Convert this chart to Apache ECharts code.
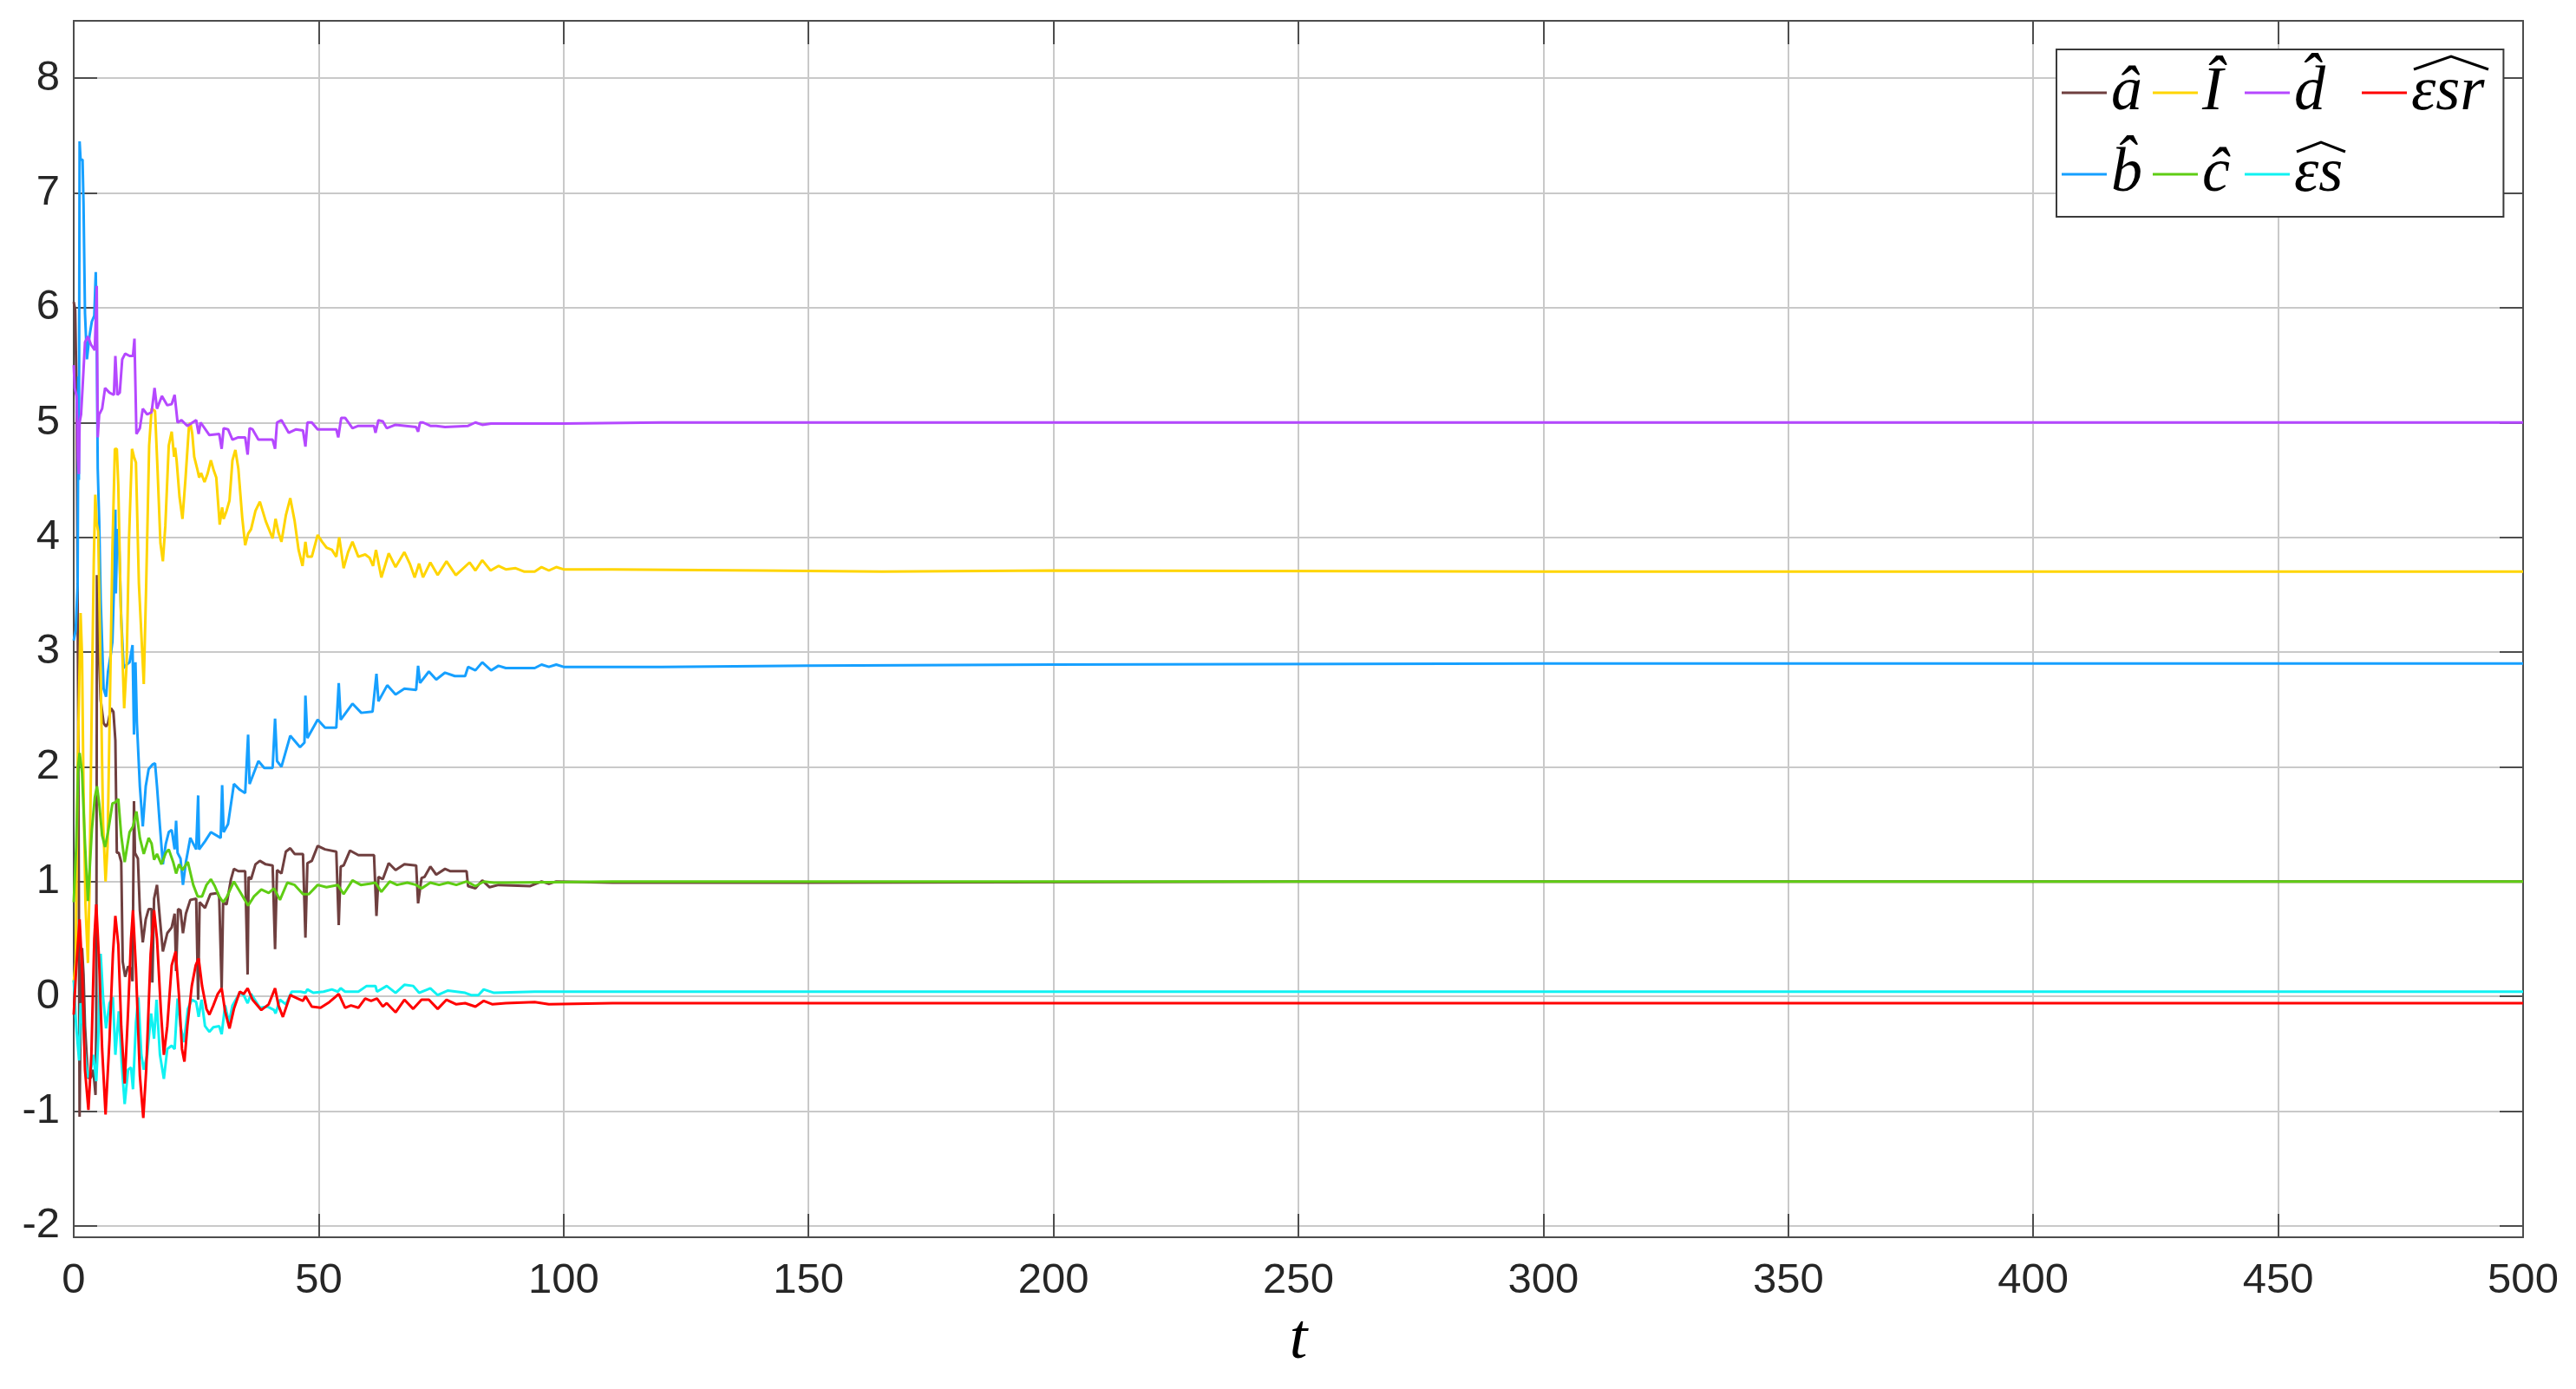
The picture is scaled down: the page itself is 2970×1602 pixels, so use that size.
<!DOCTYPE html>
<html>
<head>
<meta charset="utf-8">
<script src="https://cdn.jsdelivr.net/npm/echarts@6.0.0/dist/echarts.min.js"></script>
<style>
  html, body { margin: 0; padding: 0; background: #ffffff; }
  #chart { width: 2970px; height: 1602px; }
</style>
</head>
<body>
<div id="chart"></div>
<script>
  // estimated parameter traces, [t, value]
  const aHat = [[0,6.05],[0.3,5.98],[0.6,5.2],[0.9,2.6],[1.2,-1.05],[1.4,-0.13],[1.7,0.42],[2.0,0.19],[2.3,-0.26],[2.9,-0.71],[3.5,-0.71],[4.0,-0.64],[4.45,-0.86],[4.6,-0.26],[4.75,3.67],[5.1,3.09],[5.5,2.58],[6.1,2.38],[6.6,2.35],[7.0,2.38],[7.6,2.51],[8.1,2.48],[8.5,2.23],[8.8,1.25],[9.2,1.25],[9.7,1.17],[10.0,0.3],[10.5,0.17],[11.1,0.26],[11.7,0.24],[12.0,0.13],[12.3,1.70],[12.5,1.25],[13.1,1.2],[13.5,0.75],[14.1,0.47],[14.7,0.67],[15.3,0.76],[15.9,0.76],[16.05,0.12],[16.4,0.85],[17.0,0.97],[17.6,0.67],[18.2,0.39],[19.1,0.55],[20.0,0.60],[20.6,0.72],[20.9,0.22],[21.3,0.76],[21.8,0.75],[22.3,0.55],[22.9,0.72],[23.8,0.84],[25.0,0.85],[25.4,-0.03],[25.7,0.82],[26.8,0.77],[27.9,0.89],[29.4,0.90],[29.7,0.86],[30.2,0.07],[30.5,0.82],[31.2,0.80],[32.1,1.02],[32.7,1.11],[33.6,1.09],[35.0,1.09],[35.5,0.19],[35.7,1.04],[36.2,1.02],[37.1,1.15],[38.0,1.18],[39.2,1.15],[40.6,1.14],[41.1,0.41],[41.5,1.10],[42.4,1.07],[43.3,1.26],[44.2,1.29],[45.1,1.24],[46.8,1.24],[47.3,0.51],[47.7,1.16],[48.6,1.18],[49.8,1.31],[51.3,1.28],[53.6,1.26],[54.1,0.62],[54.5,1.13],[55.1,1.14],[56.4,1.27],[58.1,1.23],[61.3,1.23],[61.8,0.70],[62.2,1.04],[63.1,1.02],[64.3,1.16],[65.7,1.10],[67.5,1.15],[69.9,1.14],[70.3,0.81],[71.0,1.03],[71.6,1.04],[72.8,1.13],[74.0,1.06],[75.8,1.11],[76.9,1.09],[80.2,1.09],[80.5,0.96],[82.0,0.94],[83.4,1.01],[84.9,0.95],[86.7,0.97],[93.2,0.96],[95.5,1.00],[97.0,0.98],[98.5,1.0],[110,0.99],[150,0.99],[250,1.0],[500,1.0]]

  const bHat = [[0,3.10],[0.4,3.19],[0.8,3.59],[0.95,5.4],[1.05,4.5],[1.2,7.45],[1.4,7.29],[1.8,7.29],[2.0,6.91],[2.3,5.95],[2.7,5.55],[3.2,5.75],[3.7,5.88],[4.2,5.93],[4.5,6.31],[4.7,5.70],[4.9,4.6],[5.2,4.14],[5.5,3.46],[6.1,2.68],[6.6,2.61],[7.0,2.83],[7.6,2.99],[7.9,3.09],[8.2,3.54],[8.5,4.24],[8.6,3.51],[8.9,4.07],[9.2,4.04],[9.7,3.29],[10.2,2.86],[10.8,2.89],[11.4,2.91],[12.0,3.06],[12.3,2.28],[12.6,2.91],[12.9,2.38],[13.5,1.83],[14.1,1.48],[14.7,1.83],[15.3,1.98],[16.1,2.02],[16.6,2.03],[17.0,1.83],[17.6,1.48],[18.2,1.15],[18.8,1.33],[19.4,1.43],[20.0,1.45],[20.6,1.28],[20.9,1.53],[21.2,1.25],[21.8,1.20],[22.3,0.97],[22.9,1.17],[23.8,1.38],[25.0,1.28],[25.4,1.75],[25.6,1.28],[26.8,1.35],[28.0,1.43],[30.0,1.38],[30.3,1.84],[30.6,1.43],[31.5,1.50],[32.7,1.85],[33.9,1.80],[35.0,1.77],[35.6,2.28],[35.9,1.85],[37.7,2.05],[38.9,1.99],[40.6,1.99],[41.1,2.42],[41.5,2.05],[42.4,2.00],[44.2,2.27],[46.2,2.17],[47.1,2.21],[47.3,2.62],[47.7,2.25],[49.8,2.41],[51.3,2.34],[53.6,2.34],[54.1,2.73],[54.5,2.41],[56.9,2.55],[58.7,2.47],[61.0,2.48],[61.8,2.81],[62.2,2.57],[64.0,2.71],[65.7,2.63],[67.5,2.68],[69.9,2.67],[70.3,2.88],[70.7,2.73],[72.5,2.83],[74.0,2.76],[75.8,2.82],[77.8,2.79],[79.9,2.79],[80.5,2.87],[82.0,2.84],[83.4,2.91],[85.2,2.84],[86.7,2.88],[88.2,2.86],[94.1,2.86],[95.5,2.89],[97.0,2.87],[98.5,2.89],[100,2.87],[120,2.87],[150,2.88],[200,2.89],[300,2.90],[500,2.90]]

  const iHat = [[0,0.12],[0.4,0.3],[0.8,2.0],[1.1,2.66],[1.4,3.34],[1.7,2.96],[2.0,1.8],[2.4,0.8],[2.9,0.29],[3.2,0.9],[3.7,2.6],[4.1,3.8],[4.4,4.37],[4.7,4.12],[5.0,4.05],[5.5,2.8],[6.0,1.5],[6.5,1.0],[6.9,1.3],[7.4,2.6],[7.9,3.9],[8.4,4.77],[8.8,4.77],[9.1,4.45],[9.6,3.4],[10.3,2.51],[10.8,2.9],[11.3,4.0],[11.9,4.77],[12.3,4.70],[12.7,4.65],[13.3,3.6],[14.3,2.72],[14.8,3.6],[15.4,4.8],[15.9,5.12],[16.6,5.10],[17.1,4.6],[17.7,3.95],[18.2,3.79],[18.7,4.1],[19.4,4.8],[20.0,4.92],[20.5,4.70],[20.7,4.78],[21.0,4.67],[21.6,4.35],[22.2,4.16],[22.8,4.5],[23.5,4.95],[23.8,5.00],[24.2,4.90],[24.6,4.70],[25.3,4.58],[25.6,4.52],[26.0,4.56],[26.7,4.48],[27.3,4.55],[28.0,4.67],[28.6,4.58],[29.1,4.52],[29.8,4.11],[30.3,4.26],[30.6,4.16],[31.2,4.23],[31.8,4.32],[32.4,4.67],[33.0,4.76],[33.6,4.60],[34.4,4.17],[35.0,3.93],[35.6,4.03],[36.2,4.07],[37.1,4.23],[38.0,4.31],[39.2,4.14],[40.6,3.99],[41.2,4.16],[41.8,4.04],[42.4,3.96],[43.3,4.19],[44.2,4.34],[45.1,4.14],[45.9,3.89],[46.7,3.75],[47.3,3.96],[47.7,3.83],[48.6,3.83],[49.8,4.02],[50.7,3.96],[51.6,3.91],[52.7,3.89],[53.6,3.83],[54.2,4.00],[55.1,3.73],[56.0,3.87],[56.9,3.96],[58.1,3.83],[59.5,3.85],[60.4,3.82],[61.1,3.75],[61.7,3.89],[62.8,3.65],[64.3,3.86],[65.7,3.74],[67.5,3.87],[68.6,3.77],[69.6,3.65],[70.5,3.77],[71.3,3.65],[72.8,3.78],[74.3,3.67],[76.1,3.79],[78.0,3.67],[80.8,3.78],[82.0,3.71],[83.4,3.80],[85.1,3.71],[86.7,3.75],[88.2,3.72],[90.2,3.73],[92.0,3.70],[94.1,3.70],[95.5,3.74],[97.0,3.71],[98.5,3.74],[100,3.72],[110,3.72],[140,3.71],[165,3.70],[200,3.71],[300,3.70],[500,3.70]]

  const cHat = [[0,0.82],[0.5,1.3],[0.9,2.0],[1.2,2.12],[1.7,1.95],[2.3,1.33],[2.9,0.83],[3.7,1.45],[4.3,1.73],[4.75,1.83],[5.2,1.68],[5.8,1.40],[6.4,1.30],[7.0,1.43],[7.9,1.68],[8.5,1.69],[9.1,1.72],[9.7,1.40],[10.4,1.17],[11.4,1.43],[12.1,1.48],[12.8,1.61],[13.5,1.38],[14.3,1.24],[15.3,1.38],[15.9,1.33],[16.4,1.19],[17.0,1.24],[17.9,1.15],[18.8,1.25],[19.4,1.28],[20.3,1.17],[20.9,1.07],[21.5,1.15],[22.2,1.10],[23.3,1.17],[24.4,0.97],[25.3,0.87],[26.2,0.87],[27.1,0.97],[28.0,1.02],[28.8,0.96],[29.7,0.87],[30.5,0.82],[31.2,0.86],[32.7,1.00],[34.1,0.90],[35.6,0.79],[36.8,0.87],[38.3,0.93],[39.8,0.90],[40.9,0.94],[42.1,0.84],[43.6,0.99],[45.1,0.97],[46.8,0.89],[48.0,0.89],[49.8,0.97],[51.6,0.95],[53.9,0.97],[55.1,0.89],[56.9,1.01],[58.6,0.97],[60.4,0.98],[61.6,0.99],[62.8,0.91],[64.5,1.00],[66.0,0.97],[68.1,0.99],[69.9,0.97],[71.0,0.94],[72.8,0.99],[74.6,0.97],[76.4,0.99],[78.1,0.97],[80.2,1.00],[82.0,0.96],[83.7,1.00],[85.8,0.99],[88.2,0.99],[110,1.00],[500,1.00]]

  const dHat = [[0,5.50],[0.2,5.30],[0.6,5.23],[0.85,4.7],[1.05,4.55],[1.2,5.0],[1.5,5.07],[1.8,5.30],[2.3,5.70],[2.9,5.75],[3.5,5.68],[4.3,5.63],[4.7,6.19],[4.9,4.87],[5.2,5.07],[5.8,5.12],[6.4,5.30],[7.3,5.26],[8.2,5.24],[8.5,5.58],[8.9,5.24],[9.4,5.26],[9.9,5.55],[10.5,5.60],[11.4,5.58],[12.1,5.58],[12.4,5.73],[12.8,4.90],[13.5,4.95],[14.1,5.12],[15.0,5.07],[15.9,5.09],[16.5,5.30],[17.0,5.12],[18.0,5.23],[19.1,5.15],[20.0,5.16],[20.6,5.24],[21.2,5.00],[22.0,5.02],[23.2,4.97],[25.0,5.02],[25.5,4.90],[25.9,5.00],[27.7,4.89],[29.7,4.90],[30.2,4.77],[30.6,4.95],[31.5,4.94],[32.4,4.85],[33.6,4.87],[35.0,4.87],[35.5,4.72],[35.9,4.95],[36.5,4.94],[37.7,4.85],[38.9,4.85],[40.6,4.85],[41.1,4.77],[41.5,5.00],[42.4,5.02],[43.9,4.91],[45.4,4.94],[46.8,4.93],[47.3,4.79],[47.7,5.00],[48.6,5.00],[49.8,4.94],[51.6,4.94],[53.6,4.94],[54.0,4.87],[54.6,5.04],[55.4,5.04],[56.9,4.95],[58.1,4.97],[61.3,4.97],[61.6,4.91],[62.2,5.02],[63.1,5.01],[63.9,4.95],[65.7,4.98],[69.9,4.96],[70.3,4.92],[70.7,5.00],[71.3,5.00],[72.8,4.97],[74.0,4.97],[75.8,4.96],[80.5,4.97],[82.0,5.00],[83.4,4.98],[85.2,4.99],[88.2,4.99],[100,4.99],[120,5.0],[500,5.0]]

  const esHat = [[0,0.14],[0.5,-0.26],[1.1,-0.56],[1.4,-0.06],[1.9,-0.26],[2.3,-0.51],[2.9,-0.71],[3.5,-0.64],[4.0,-0.51],[4.6,-0.74],[5.0,-0.38],[5.5,0.37],[6.0,-0.01],[6.6,-0.28],[7.3,-0.06],[8.0,-0.01],[8.5,-0.51],[9.2,-0.13],[9.8,-0.59],[10.4,-0.94],[11.1,-0.64],[11.7,-0.62],[12.1,-0.81],[12.7,-0.23],[13.2,-0.01],[13.8,-0.51],[14.3,-0.64],[15.0,-0.51],[15.8,-0.15],[16.4,-0.37],[16.9,-0.03],[17.6,-0.51],[18.4,-0.72],[19.1,-0.46],[20.0,-0.43],[20.6,-0.46],[21.2,-0.02],[21.8,-0.26],[22.5,-0.40],[23.3,-0.11],[24.1,-0.03],[25.0,-0.05],[25.5,-0.18],[26.1,-0.03],[26.8,-0.26],[27.7,-0.31],[28.5,-0.27],[29.7,-0.26],[30.2,-0.33],[30.9,-0.08],[31.7,-0.23],[32.4,-0.08],[33.9,0.03],[34.7,0.01],[35.5,-0.06],[36.2,0.02],[38.0,-0.10],[39.5,-0.09],[40.9,-0.12],[41.2,-0.15],[42.1,-0.03],[43.3,-0.07],[44.5,0.04],[46.3,0.04],[47.3,0.03],[47.7,0.06],[48.9,0.03],[51.0,0.04],[52.7,0.06],[53.9,0.04],[54.5,0.07],[55.4,0.04],[58.1,0.04],[59.8,0.09],[61.6,0.09],[61.9,0.04],[63.9,0.09],[65.7,0.03],[67.5,0.10],[69.3,0.09],[70.5,0.03],[72.8,0.07],[74.3,0.01],[76.4,0.05],[79.9,0.03],[81.1,0.01],[82.6,0.01],[83.7,0.06],[85.8,0.03],[94.1,0.04],[110,0.04],[500,0.04]]

  const esrHat = [[0,-0.16],[0.5,0.24],[1.2,0.67],[1.7,0.24],[2.3,-0.64],[3.0,-0.99],[3.6,-0.51],[4.2,0.50],[4.6,0.80],[5.2,0.29],[5.8,-0.46],[6.5,-1.03],[7.3,-0.38],[8.0,0.37],[8.5,0.70],[9.1,0.45],[9.7,-0.26],[10.4,-0.76],[11.1,-0.13],[11.7,0.50],[12.1,0.75],[12.7,0.24],[13.5,-0.69],[14.2,-1.06],[14.8,-0.64],[15.7,0.37],[16.4,0.75],[17.0,0.50],[17.8,-0.13],[18.4,-0.51],[19.1,-0.26],[20.0,0.27],[20.8,0.39],[21.5,0.0],[22.1,-0.46],[22.6,-0.57],[23.2,-0.26],[24.1,0.09],[24.9,0.27],[25.5,0.33],[26.2,0.09],[27.1,-0.11],[27.7,-0.16],[28.5,-0.08],[29.4,0.02],[30.2,0.07],[30.9,-0.13],[31.8,-0.28],[32.7,-0.11],[33.9,0.04],[34.7,0.02],[35.5,0.07],[36.5,-0.03],[38.3,-0.12],[39.8,-0.07],[41.1,0.07],[41.8,-0.08],[42.7,-0.18],[44.2,0.01],[45.7,-0.02],[46.8,-0.04],[47.3,0.0],[48.6,-0.09],[50.4,-0.10],[52.2,-0.05],[53.3,-0.01],[54.1,0.02],[55.4,-0.10],[56.6,-0.08],[58.1,-0.10],[59.5,-0.02],[60.7,-0.04],[61.9,-0.02],[63.1,-0.09],[63.9,-0.06],[65.7,-0.14],[67.5,-0.03],[69.3,-0.11],[71.0,-0.03],[72.5,-0.03],[74.3,-0.11],[76.1,-0.03],[78.1,-0.07],[79.9,-0.06],[82.0,-0.09],[83.7,-0.04],[85.5,-0.07],[88.2,-0.06],[94.1,-0.05],[97.0,-0.07],[110,-0.06],[500,-0.06]]

  // plot order (later on top)
  const seriesNames = ['â', 'b̂', 'Î', 'ĉ', 'd̂', 'εs', 'εsr']
  const seriesData = [aHat, bHat, iHat, cHat, dHat, esHat, esrHat]
  const seriesColors = ['#6f3f3f', '#16a0ff', '#ffd500', '#5fcd14', '#b548ff', '#10f2f2', '#ff0000']

  // legend rows, MATLAB column layout
  const legendOrder = ['â', 'Î', 'd̂', 'εsr', 'b̂', 'ĉ', 'εs']
  const legendTextWidth = [48, 49, 78, null, 48, 49, 78]

  const axisColor = '#4d4d4d'
  const gridColor = '#c9c9c9'
  const labelFont = {
    fontFamily: 'Liberation Sans',
    fontSize: 49,
    color: '#262626'
  }

  const chart = echarts.init(document.getElementById('chart'), null, { renderer: 'canvas' })

  chart.setOption({
    animation: false,
    backgroundColor: '#ffffff',
    grid: {
      left: 85,
      right: 61,
      top: 24,
      bottom: 175,
      containLabel: false
    },
    legend: {
      left: 2371,
      top: 57,
      width: 590,
      orient: 'horizontal',
      itemGap: 0,
      itemWidth: 52,
      itemHeight: 3,
      icon: 'rect',
      padding: [3, 22, 2, 6],
      backgroundColor: '#ffffff',
      borderColor: '#3a3a3a',
      borderWidth: 2,
      borderRadius: 0,
      selectedMode: false,
      textStyle: {
        fontFamily: 'Liberation Serif',
        fontStyle: 'italic',
        fontSize: 72,
        color: '#000000',
        lineHeight: 94
      },
      data: legendOrder.map((n, i) => {
        const item = { name: n }
        if (legendTextWidth[i]) item.textStyle = { width: legendTextWidth[i] }
        return item
      })
    },
    xAxis: [
      {
        type: 'value',
        position: 'bottom',
        min: 0,
        max: 500,
        interval: 50,
        axisLine: { show: true, onZero: false, lineStyle: { color: axisColor, width: 2 } },
        axisTick: { show: true, inside: true, length: 27, lineStyle: { color: axisColor, width: 2 } },
        axisLabel: Object.assign({ margin: 26 }, labelFont),
        splitLine: { show: true, lineStyle: { color: gridColor, width: 2 } },
        name: 't',
        nameLocation: 'middle',
        nameGap: 83,
        nameTextStyle: {
          fontFamily: 'Liberation Serif',
          fontStyle: 'italic',
          fontSize: 74,
          color: '#000000'
        }
      },
      {
        type: 'value',
        position: 'top',
        min: 0,
        max: 500,
        interval: 50,
        axisLine: { show: true, onZero: false, lineStyle: { color: axisColor, width: 2 } },
        axisTick: { show: true, inside: true, length: 27, lineStyle: { color: axisColor, width: 2 } },
        axisLabel: { show: false },
        splitLine: { show: false }
      }
    ],
    yAxis: [
      {
        type: 'value',
        position: 'left',
        min: -2.1,
        max: 8.5,
        splitNumber: 10,
        axisLine: { show: true, onZero: false, lineStyle: { color: axisColor, width: 2 } },
        axisTick: { show: true, inside: true, length: 27, lineStyle: { color: axisColor, width: 2 } },
        axisLabel: Object.assign({ margin: 16, showMinLabel: false, showMaxLabel: false }, labelFont),
        splitLine: { show: true, lineStyle: { color: gridColor, width: 2 } }
      },
      {
        type: 'value',
        position: 'right',
        min: -2.1,
        max: 8.5,
        splitNumber: 10,
        axisLine: { show: true, onZero: false, lineStyle: { color: axisColor, width: 2 } },
        axisTick: { show: true, inside: true, length: 27, lineStyle: { color: axisColor, width: 2 } },
        axisLabel: { show: false },
        splitLine: { show: false }
      }
    ],
    // wide hats over the two epsilon labels
    graphic: [
      {
        type: 'polyline',
        z: 100,
        shape: { points: [[2783, 80], [2826, 65], [2869, 80]] },
        style: { stroke: '#000000', lineWidth: 3, fill: null }
      },
      {
        type: 'polyline',
        z: 100,
        shape: { points: [[2648, 175], [2676, 164], [2704, 175]] },
        style: { stroke: '#000000', lineWidth: 3, fill: null }
      }
    ],
    series: seriesNames.map((n, i) => ({
      name: n,
      type: 'line',
      xAxisIndex: 0,
      yAxisIndex: 0,
      data: seriesData[i],
      showSymbol: false,
      symbol: 'none',
      clip: true,
      color: seriesColors[i],
      lineStyle: { color: seriesColors[i], width: 3 },
      emphasis: { disabled: true }
    }))
  })
</script>
</body>
</html>
